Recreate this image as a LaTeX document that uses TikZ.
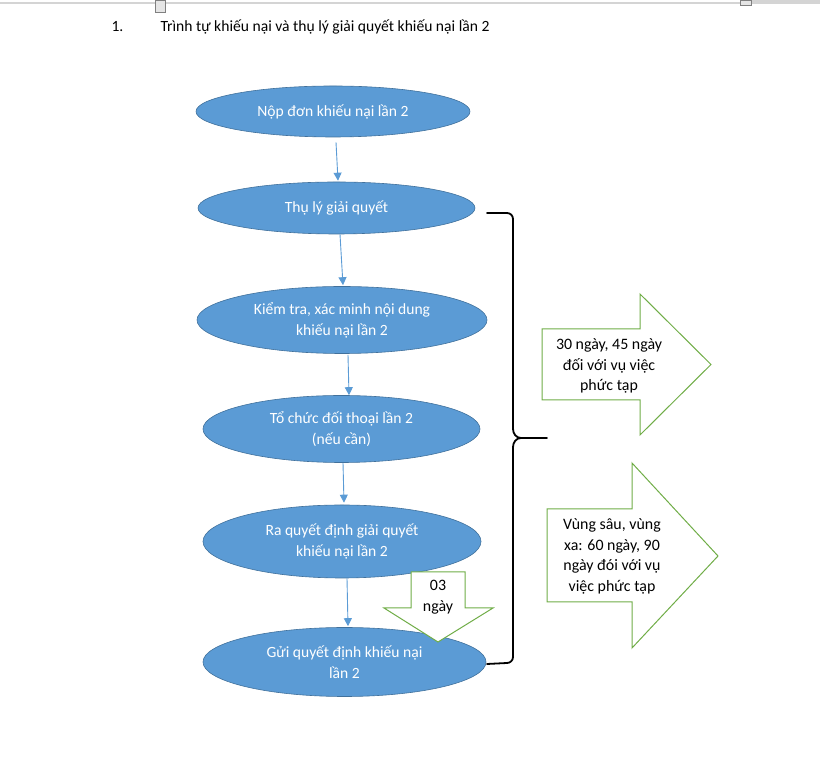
\documentclass[tikz,border=0pt]{standalone}
\usepackage{fontspec}
\setmainfont{Carlito}
\usetikzlibrary{arrows.meta,shapes.geometric}
\definecolor{stageblue}{HTML}{5B9BD5}
\definecolor{stageedge}{HTML}{41719C}
\definecolor{termgreen}{HTML}{70AD47}
\definecolor{rulergray}{HTML}{D4D4D4}

\begin{document}
\begin{tikzpicture}[x=1pt,y=1pt,
    stage/.style={ellipse,fill=stageblue,draw=stageedge,line width=0.6pt,
      text=white,align=center,inner sep=0pt,
      font=\fontsize{15.6}{21}\selectfont},
    flow/.style={draw=stageblue,line width=0.9pt,-{Triangle[width=8pt,length=8pt]}},
    termarrow/.style={draw=termgreen,fill=white,line width=1pt,line join=miter},
    termtext/.style={align=center,inner sep=0pt,font=\fontsize{15.9}{20.5}\selectfont}]
  \useasboundingbox (0,0) rectangle (820,760);

  \draw[rulergray,line width=1.2pt] (0,757) -- (820,757);
  \draw[rulergray,line width=3pt] (751,758.5) -- (820,758.5);
  \draw[gray,fill=rulergray!60,line width=0.6pt] (155,748) rectangle (165,760);
  \draw[gray,fill=rulergray!60,line width=0.6pt] (740,755) rectangle (751,760);

  \node[anchor=west,font=\fontsize{15.6}{18}\selectfont] (num) at (108,733) {1.};
  \node[anchor=west,font=\fontsize{15.6}{18}\selectfont] (title) at (157,733)
    {Trình tự khiếu nại và thụ lý giải quyết khiếu nại lần 2};

  \node[stage,minimum width=274pt,minimum height=51pt] (nop) at (333,648.5)
    {Nộp đơn khiếu nại lần 2};
  \node[stage,minimum width=277pt,minimum height=52pt] (thuly) at (336.5,552)
    {Thụ lý giải quyết};
  \node[stage,minimum width=290pt,minimum height=67pt] (kiemtra) at (342,440)
    {Kiểm tra, xác minh nội dung\\khiếu nại lần 2};
  \node[stage,minimum width=277pt,minimum height=67pt] (doithoai) at (341.5,331)
    {Tổ chức đối thoại lần 2\\(nếu cần)};
  \node[stage,minimum width=278pt,minimum height=73pt] (quyetdinh) at (342,218.5)
    {Ra quyết định giải quyết\\khiếu nại lần 2};
  \node[stage,minimum width=283pt,minimum height=69pt] (gui) at (344.5,98)
    {Gửi quyết định khiếu nại\\lần 2};

  \draw[flow] ([xshift=3pt,yshift=-5pt]nop.south) -- ([xshift=1.5pt,yshift=1pt]thuly.north);
  \draw[flow] ([xshift=3.5pt]thuly.south) -- ([xshift=1pt,yshift=1pt]kiemtra.north);
  \draw[flow] ([xshift=6pt,yshift=-1pt]kiemtra.south) -- ([xshift=7.5pt]doithoai.north);
  \draw[flow] ([xshift=1.5pt]doithoai.south) -- ([xshift=2pt,yshift=2pt]quyetdinh.north);
  \draw[flow] ([xshift=5pt]quyetdinh.south) -- ([xshift=3.5pt,yshift=1pt]gui.north);

  \draw[termarrow] (411,188) -- (465,188) -- (465,152) -- (493,152) -- (438,118)
    -- (384,152) -- (411,152) -- cycle;
  \node[termtext] (bagay) at (438,163) {03\\ngày};

  \draw[black,line width=1.8pt,line cap=round]
    (487,547) -- (507,547) to[out=0,in=90] (513,541) -- (513,331)
    to[out=-90,in=180] (521,322) -- (547,322)
    (521,322) to[out=180,in=90] (513,313) -- (513,103)
    to[out=-90,in=0] (507,97) -- (487,96);

  \draw[termarrow] (542,431) -- (640,431) -- (640,466) -- (711,395.5) -- (640,325)
    -- (640,360) -- (542,360) -- cycle;
  \node[termtext] (hanthuong) at (609,394)
    {30 ngày, 45 ngày\\đối với vụ việc\\phức tạp};

  \draw[termarrow] (547,251) -- (632,251) -- (632,297) -- (718,204) -- (632,112)
    -- (632,158) -- (547,158) -- cycle;
  \node[termtext] (hanxa) at (612,203.5)
    {Vùng sâu, vùng\\xa: 60 ngày, 90\\ngày đói với vụ\\việc phức tạp};
\end{tikzpicture}
\end{document}
